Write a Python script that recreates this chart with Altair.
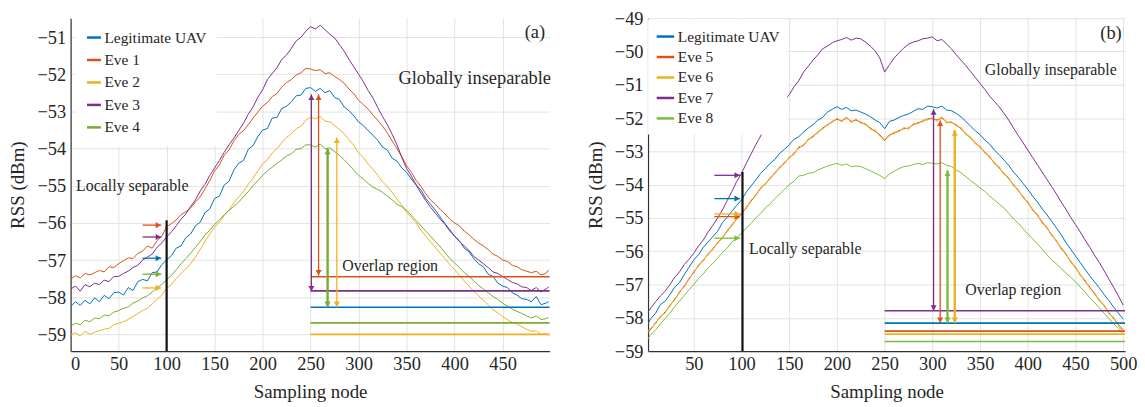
import altair as alt
import pandas as pd

FONT = "Times New Roman, Liberation Serif, DejaVu Serif, serif"
TXT = "#262626"

# ---------------- panel (a) ----------------
nodes_a = list(range(0, 500, 5)) + [498]
a_names = ["Legitimate UAV", "Eve 1", "Eve 2", "Eve 3", "Eve 4"]
a_colors = ["#0072BD", "#D95319", "#EDB120", "#7E2F8E", "#77AC30"]

a_uav = [-58.25,-58.12,-58.22,-58.08,-58.18, -58.02,-58.12,-57.95,-58.04,-57.88, -57.86,-57.94,-57.74,-57.82,-57.58,
         -57.52,-57.56,-57.34,-57.32,-57.12, -57.0,-56.88,-56.68,-56.62,-56.4, -56.3,-56.08,-55.98,-55.72,-55.62,
         -55.34,-55.28,-54.98,-54.88,-54.58, -54.4,-54.32,-54.02,-53.92,-53.68, -53.5,-53.46,-53.18,-53.16,-52.92,
         -52.86,-52.74,-52.58,-52.56,-52.38, -52.36,-52.46,-52.38,-52.5,-52.44, -52.62,-52.68,-52.88,-52.98,-53.12,
         -53.28,-53.38,-53.52,-53.64,-53.78, -53.96,-54.04,-54.26,-54.34,-54.52, -54.64,-54.82,-54.98,-55.12,-55.34,
         -55.5,-55.66,-55.84,-56.02,-56.18, -56.36,-56.48,-56.68,-56.78,-56.96, -57.1,-57.18,-57.38,-57.44,-57.62,
         -57.7,-57.74,-57.88,-57.94,-58.04, -58.06,-58.12,-57.98,-58.2,-58.16, -58.12]
a_eve1 = [-57.52,-57.42,-57.48,-57.36,-57.4, -57.34,-57.28,-57.32,-57.18,-57.2, -57.1,-57.02,-56.94,-56.96,-56.82,
          -56.76,-56.62,-56.68,-56.48,-56.36, -56.1,-56.02,-55.92,-55.78,-55.7, -55.6,-55.44,-55.3,-55.08,-54.86,
          -54.6,-54.44,-54.18,-54.04,-53.8, -53.62,-53.52,-53.36,-53.18,-53.02, -52.86,-52.76,-52.6,-52.52,-52.34,
          -52.22,-52.14,-52.02,-51.96,-51.84, -51.86,-51.9,-51.88,-51.98,-51.96, -52.06,-52.14,-52.24,-52.4,-52.52,
          -52.7,-52.82,-52.94,-53.1,-53.24, -53.4,-53.58,-53.8,-54.0,-54.22, -54.46,-54.64,-54.86,-55.02,-55.22,
          -55.38,-55.5,-55.64,-55.76,-55.9, -56.0,-56.08,-56.22,-56.32,-56.44, -56.54,-56.62,-56.72,-56.84,-56.9,
          -57.0,-57.04,-57.14,-57.18,-57.26, -57.3,-57.34,-57.3,-57.4,-57.36, -57.26]
a_eve2 = [-59.02,-58.96,-59.04,-58.92,-59.0, -58.94,-58.9,-58.86,-58.84,-58.74, -58.7,-58.66,-58.6,-58.52,-58.44,
          -58.36,-58.3,-58.18,-58.06,-57.94, -57.76,-57.66,-57.5,-57.36,-57.24, -57.1,-56.92,-56.72,-56.5,-56.3,
          -56.12,-55.98,-55.8,-55.66,-55.46, -55.3,-55.16,-54.96,-54.8,-54.6, -54.42,-54.3,-54.12,-54.0,-53.84,
          -53.7,-53.6,-53.46,-53.4,-53.24, -53.16,-53.2,-53.14,-53.26,-53.28, -53.38,-53.48,-53.6,-53.76,-53.92,
          -54.12,-54.24,-54.42,-54.56,-54.72, -54.9,-55.02,-55.18,-55.36,-55.52, -55.72,-55.86,-56.0,-56.2,-56.36,
          -56.52,-56.66,-56.82,-56.96,-57.12, -57.26,-57.4,-57.56,-57.7,-57.84, -57.96,-58.08,-58.2,-58.34,-58.42,
          -58.52,-58.6,-58.68,-58.72,-58.8, -58.86,-58.92,-58.9,-59.0,-58.98, -59.02]
a_eve3 = [-57.78,-57.7,-57.84,-57.66,-57.72, -57.62,-57.66,-57.54,-57.58,-57.44, -57.44,-57.36,-57.3,-57.2,-57.14,
          -57.0,-56.92,-56.84,-56.66,-56.54, -56.38,-56.24,-56.08,-55.9,-55.76, -55.56,-55.38,-55.14,-54.96,-54.72,
          -54.52,-54.32,-54.1,-53.9,-53.72, -53.52,-53.32,-53.08,-52.88,-52.62, -52.42,-52.14,-51.98,-51.82,-51.6,
          -51.48,-51.3,-51.1,-51.0,-50.84, -50.72,-50.78,-50.68,-50.8,-50.92, -51.02,-51.2,-51.38,-51.6,-51.8,
          -52.0,-52.2,-52.44,-52.64,-52.9, -53.14,-53.36,-53.62,-53.9,-54.24, -54.54,-54.74,-54.98,-55.2,-55.4,
          -55.58,-55.74,-55.9,-56.04,-56.22, -56.36,-56.5,-56.62,-56.74,-56.9, -57.0,-57.1,-57.2,-57.32,-57.36,
          -57.44,-57.52,-57.6,-57.64,-57.72, -57.74,-57.82,-57.74,-57.86,-57.78, -57.72]
a_eve4 = [-58.78,-58.7,-58.74,-58.62,-58.66, -58.56,-58.58,-58.48,-58.5,-58.4, -58.36,-58.3,-58.26,-58.16,-58.1,
          -58.02,-57.96,-57.86,-57.74,-57.66, -57.52,-57.42,-57.26,-57.1,-56.96, -56.82,-56.66,-56.5,-56.32,-56.2,
          -56.04,-55.92,-55.78,-55.66,-55.56, -55.44,-55.3,-55.16,-55.0,-54.86, -54.72,-54.6,-54.5,-54.4,-54.3,
          -54.2,-54.14,-54.02,-54.0,-53.9, -53.9,-53.96,-53.88,-54.0,-53.98, -54.08,-54.18,-54.3,-54.44,-54.58,
          -54.72,-54.82,-54.94,-55.04,-55.1, -55.18,-55.28,-55.38,-55.5,-55.56, -55.66,-55.8,-55.94,-56.08,-56.22,
          -56.36,-56.5,-56.64,-56.8,-56.96, -57.08,-57.2,-57.34,-57.44,-57.56, -57.68,-57.78,-57.88,-57.98,-58.06,
          -58.16,-58.24,-58.32,-58.38,-58.44, -58.5,-58.56,-58.5,-58.6,-58.58, -58.54]

a_overlap_y = [-58.27, -57.45, -59.0, -57.83, -58.69]      # per a_names
a_overlap_x = [250, 499]
a_marker_y = [-56.95, -56.06, -57.75, -56.38, -57.38]      # small arrows at node 100
a_marker_x = [75, 94.5]
a_arrow_series = ["Eve 3", "Eve 1", "Eve 4", "Eve 2"]
a_arrow_x = [250.8, 258.3, 267.7, 277.3]
a_arrow_top = [-52.54, -52.54, -54.0, -53.7]
a_arrow_bottom = [-57.85, -57.42, -58.27, -58.27]
a_thick = ["Eve 4"]
a_black = [100, -55.93]
a_notes = ["Locally separable", "Overlap region", "Globally inseparable", "(a)"]
a_notes_x = [5.7, 283, 341.5, 473]
a_notes_y = [-55.0, -57.16, -52.1, -50.85]
a_xdom = [0, 499]
a_ydom = [-59.45, -50.49]
a_xticks = [0, 50, 100, 150, 200, 250, 300, 350, 400, 450]
a_yticks = [-59, -58, -57, -56, -55, -54, -53, -52, -51]

# ---------------- panel (b) ----------------
nodes_b = list(range(0, 505, 5))
b_names = ["Legitimate UAV", "Eve 5", "Eve 6", "Eve 7", "Eve 8"]
b_colors = ["#0072BD", "#D95319", "#EDB120", "#7E2F8E", "#78BE3C"]

b_uav = [-58.28,-58.02,-57.86,-57.6,-57.5, -57.3,-57.08,-56.94,-56.7,-56.48, -56.26,-56.1,-55.88,-55.72,-55.56,
         -55.4,-55.14,-54.98,-54.8,-54.62, -54.46,-54.22,-54.04,-53.86,-53.66, -53.52,-53.36,-53.24,-53.06,-52.94,
         -52.8,-52.64,-52.56,-52.42,-52.3, -52.2,-52.06,-51.98,-51.82,-51.74, -51.66,-51.74,-51.68,-51.78,-51.76,
         -51.82,-51.88,-51.96,-52.06,-52.14, -52.32,-52.1,-52.06,-51.98,-51.92, -51.88,-51.8,-51.72,-51.74,-51.64,
         -51.66,-51.7,-51.64,-51.76,-51.78, -51.86,-51.96,-52.1,-52.24,-52.38, -52.5,-52.66,-52.78,-52.96,-53.1,
         -53.26,-53.42,-53.62,-53.78,-53.96, -54.14,-54.34,-54.52,-54.72,-54.9, -55.1,-55.3,-55.5,-55.74,-55.94,
         -56.14,-56.34,-56.54,-56.74,-56.92, -57.1,-57.3,-57.48,-57.68,-57.86, -58.04]
b_eve5 = [-58.52,-58.34,-58.14,-57.98,-57.82, -57.64,-57.44,-57.24,-57.04,-56.84, -56.62,-56.44,-56.26,-56.1,-55.92,
          -55.76,-55.58,-55.4,-55.2,-55.04, -54.88,-54.68,-54.5,-54.3,-54.12, -53.96,-53.82,-53.64,-53.5,-53.34,
          -53.2,-53.06,-52.9,-52.8,-52.66, -52.54,-52.44,-52.3,-52.22,-52.1, -52.04,-52.08,-52.0,-52.1,-52.06,
          -52.12,-52.2,-52.3,-52.4,-52.5, -52.68,-52.5,-52.46,-52.38,-52.32, -52.3,-52.2,-52.14,-52.1,-52.02,
          -52.02,-52.06,-52.0,-52.12,-52.14, -52.2,-52.32,-52.46,-52.6,-52.74, -52.88,-53.02,-53.18,-53.34,-53.5,
          -53.66,-53.82,-54.0,-54.18,-54.36, -54.54,-54.74,-54.92,-55.12,-55.3, -55.5,-55.7,-55.9,-56.1,-56.3,
          -56.5,-56.7,-56.9,-57.08,-57.28, -57.46,-57.64,-57.84,-58.02,-58.2, -58.36]
b_eve6 = [-58.46,-58.3,-58.18,-57.94,-57.86, -57.6,-57.48,-57.2,-57.08,-56.8, -56.66,-56.4,-56.3,-56.06,-55.96,
          -55.72,-55.62,-55.36,-55.24,-55.0, -54.84,-54.72,-54.46,-54.34,-54.08, -54.0,-53.78,-53.68,-53.46,-53.38,
          -53.16,-53.1,-52.86,-52.84,-52.62, -52.58,-52.4,-52.34,-52.18,-52.14, -52.0,-52.12,-51.96,-52.14,-52.02,
          -52.16,-52.16,-52.34,-52.36,-52.54, -52.64,-52.54,-52.42,-52.42,-52.28, -52.34,-52.16,-52.18,-52.06,-52.06,
          -51.98,-52.1,-51.96,-52.16,-52.1, -52.24,-52.28,-52.5,-52.56,-52.78, -52.84,-53.06,-53.14,-53.38,-53.46,
          -53.7,-53.78,-54.04,-54.14,-54.4, -54.5,-54.78,-54.88,-55.16,-55.26, -55.54,-55.66,-55.94,-56.06,-56.34,
          -56.46,-56.74,-56.86,-57.12,-57.24, -57.5,-57.6,-57.88,-57.98,-58.24, -58.42]
b_eve7 = [-57.92,-57.7,-57.52,-57.34,-57.2, -57.0,-56.78,-56.62,-56.4,-56.24, -56.06,-55.84,-55.66,-55.42,-55.22,
          -55.0,-54.76,-54.48,-54.2,-53.9, -53.66,-53.36,-53.08,-52.8,-52.54, -52.26,-52.04,-51.82,-51.64,-51.46,
          -51.3,-51.06,-50.88,-50.62,-50.44, -50.26,-50.1,-49.92,-49.84,-49.74, -49.68,-49.64,-49.58,-49.66,-49.6,
          -49.62,-49.72,-49.84,-49.98,-50.2, -50.62,-50.4,-50.2,-50.04,-49.9, -49.78,-49.72,-49.68,-49.62,-49.6,
          -49.56,-49.68,-49.64,-49.78,-49.92, -50.1,-50.26,-50.42,-50.6,-50.78, -50.96,-51.14,-51.34,-51.5,-51.66,
          -51.86,-52.06,-52.3,-52.52,-52.74, -52.96,-53.18,-53.4,-53.62,-53.84, -54.06,-54.28,-54.52,-54.74,-54.98,
          -55.2,-55.42,-55.66,-55.88,-56.12, -56.34,-56.58,-56.84,-57.08,-57.34, -57.62]
b_eve8 = [-58.7,-58.5,-58.36,-58.18,-58.02, -57.86,-57.66,-57.5,-57.32,-57.16, -57.0,-56.82,-56.68,-56.5,-56.36,
          -56.2,-56.04,-55.9,-55.72,-55.6, -55.46,-55.3,-55.16,-55.0,-54.86, -54.7,-54.58,-54.42,-54.28,-54.14,
          -54.0,-53.9,-53.74,-53.72,-53.66, -53.64,-53.56,-53.5,-53.44,-53.4, -53.36,-53.42,-53.38,-53.46,-53.44,
          -53.46,-53.52,-53.58,-53.66,-53.72, -53.82,-53.68,-53.6,-53.52,-53.46, -53.44,-53.4,-53.36,-53.4,-53.34,
          -53.36,-53.38,-53.34,-53.42,-53.46, -53.56,-53.64,-53.76,-53.88,-53.98, -54.1,-54.2,-54.34,-54.46,-54.58,
          -54.7,-54.86,-55.02,-55.16,-55.32, -55.48,-55.62,-55.78,-55.94,-56.1, -56.26,-56.38,-56.52,-56.66,-56.78,
          -56.92,-57.08,-57.22,-57.4,-57.54, -57.7,-57.86,-58.02,-58.18,-58.32, -58.48]

b_overlap_y = [-58.16, -58.4, -58.49, -57.79, -58.71]
b_overlap_x = [250, 502]
b_marker_y = [-54.42, -54.96, -54.88, -53.72, -55.61]
b_marker_x = [71.5, 98.5]
b_arrow_series = ["Eve 7", "Eve 5", "Eve 8", "Eve 6"]
b_arrow_x = [301.3, 308.2, 315.9, 323.5]
b_arrow_top = [-51.73, -52.07, -53.57, -52.36]
b_arrow_bottom = [-57.79, -58.16, -58.16, -58.16]
b_thick = ["Eve 8", "Eve 6"]
b_black = [101, -53.62]
b_notes = ["Locally separable", "Overlap region", "Globally inseparable", "(b)"]
b_notes_x = [107.8, 334.6, 355, 476]
b_notes_y = [-55.93, -57.18, -50.57, -49.46]
b_xdom = [2, 502]
b_ydom = [-59, -49]
b_xticks = [50, 100, 150, 200, 250, 300, 350, 400, 450, 500]
b_yticks = [-59, -58, -57, -56, -55, -54, -53, -52, -51, -50, -49]


def long_df(nodes, names, lists):
    rows = []
    for name, vals in zip(names, lists):
        assert len(vals) == len(nodes), (name, len(vals), len(nodes))
        for n, v in zip(nodes, vals):
            rows.append({"node": n, "rss": v, "series": name})
    return pd.DataFrame(rows)


def panel(df, names, colors, xdom, ydom, xticks, yticks, ov_y, ov_x, mk_y, mk_x,
          ar_s, ar_x, ar_top, ar_bot, thick, black, notes, notes_x, notes_y,
          big_notes, legend_kw, w, h):
    xs = alt.Scale(domain=xdom, nice=False, zero=False)
    ys = alt.Scale(domain=ydom, nice=False, zero=False)
    cs = alt.Scale(domain=names, range=colors)
    xaxis = alt.Axis(values=xticks, title="Sampling node", grid=True, format="d")
    yaxis = alt.Axis(values=yticks, title="RSS (dBm)", grid=True, format="d")
    X = alt.X("node:Q", scale=xs, axis=xaxis)
    Y = alt.Y("rss:Q", scale=ys, axis=yaxis)
    C = alt.Color("series:N", scale=cs, legend=None)

    lines = alt.Chart(df).mark_line(strokeWidth=1, clip=True).encode(
        x=X, y=Y,
        color=alt.Color("series:N", scale=cs, legend=alt.Legend(**legend_kw)),
        detail="series:N",
    )

    ov_df = pd.DataFrame({"series": names, "rss": ov_y,
                          "node": [ov_x[0]] * len(names), "node2": [ov_x[1]] * len(names)})
    overlap = alt.Chart(ov_df).mark_rule(strokeWidth=1.6).encode(
        x=X, x2="node2:Q", y=Y, color=C)

    mk_df = pd.DataFrame({"series": names, "rss": mk_y,
                          "node": [mk_x[0]] * len(names), "node2": [mk_x[1]] * len(names)})
    mk_lines = alt.Chart(mk_df).mark_rule(strokeWidth=1.3).encode(
        x=X, x2="node2:Q", y=Y, color=C)
    mk_heads = alt.Chart(mk_df).mark_point(shape="triangle-right", filled=True, size=38,
                                           opacity=1, xOffset=-3).encode(
        x=alt.X("node2:Q", scale=xs, axis=xaxis), y=Y, color=C)

    ar_df = pd.DataFrame({"series": ar_s, "node": ar_x, "rss": ar_top, "rss2": ar_bot})
    thin_sel = alt.FieldOneOfPredicate(field="series", oneOf=thick)
    ar_thin = alt.Chart(ar_df).transform_filter(~thin_sel).mark_rule(strokeWidth=1.3).encode(
        x=X, y=Y, y2="rss2:Q", color=C)
    ar_thick = alt.Chart(ar_df).transform_filter(thin_sel).mark_rule(strokeWidth=2.4).encode(
        x=X, y=Y, y2="rss2:Q", color=C)
    head_up = alt.Chart(ar_df).mark_point(shape="triangle-up", filled=True, size=38,
                                          opacity=1, yOffset=3).encode(x=X, y=Y, color=C)
    head_dn = alt.Chart(ar_df).mark_point(shape="triangle-down", filled=True, size=38,
                                          opacity=1, yOffset=-3).encode(
        x=X, y=alt.Y("rss2:Q", scale=ys, axis=yaxis), color=C)

    bl_df = pd.DataFrame({"node": [black[0]], "rss": [ydom[0]], "rss2": [black[1]]})
    black_rule = alt.Chart(bl_df).mark_rule(strokeWidth=2.2, color="#111111").encode(
        x=X, y=Y, y2="rss2:Q")

    nt_df = pd.DataFrame({"label": notes, "node": notes_x, "rss": notes_y})
    is_big = alt.FieldOneOfPredicate(field="label", oneOf=big_notes)
    note_small = alt.Chart(nt_df).transform_filter(~is_big).mark_text(
        align="left", baseline="middle", font=FONT, fontSize=16, color=TXT).encode(
        x=X, y=Y, text="label:N")
    note_big = alt.Chart(nt_df).transform_filter(is_big).mark_text(
        align="left", baseline="middle", font=FONT, fontSize=18.5, color=TXT).encode(
        x=X, y=Y, text="label:N")

    return alt.layer(lines, overlap, mk_lines, mk_heads, ar_thin, ar_thick, head_up, head_dn,
                     black_rule, note_small, note_big).properties(width=w, height=h)


legend_common = dict(
    title=None, orient="none", fillColor="white", symbolType="stroke",
    symbolStrokeWidth=2.5, labelFont=FONT, labelFontSize=15.5, labelColor=TXT,
    labelOffset=2, labelLimit=300,
)

df_a = long_df(nodes_a, a_names, [a_uav, a_eve1, a_eve2, a_eve3, a_eve4])
df_b = long_df(nodes_b, b_names, [b_uav, b_eve5, b_eve6, b_eve7, b_eve8])

left = panel(df_a, a_names, a_colors, a_xdom, a_ydom, a_xticks, a_yticks,
             a_overlap_y, a_overlap_x, a_marker_y, a_marker_x,
             a_arrow_series, a_arrow_x, a_arrow_top, a_arrow_bottom, a_thick, a_black,
             a_notes, a_notes_x, a_notes_y, ["Globally inseparable", "(a)"],
             dict(legend_common, legendX=5, legendY=1, padding=10, rowPadding=5.6, symbolSize=196),
             482, 335)
right = panel(df_b, b_names, b_colors, b_xdom, b_ydom, b_xticks, b_yticks,
              b_overlap_y, b_overlap_x, b_marker_y, b_marker_x,
              b_arrow_series, b_arrow_x, b_arrow_top, b_arrow_bottom, b_thick, b_black,
              b_notes, b_notes_x, b_notes_y, ["(b)"],
              dict(legend_common, legendX=0, legendY=1, padding=7, rowPadding=1.6, symbolSize=310),
              480, 335)

chart = alt.hconcat(left, right, spacing=35).resolve_scale(
    x="independent", y="independent", color="independent"
).resolve_legend(color="independent").properties(
    padding={"left": 1, "top": 0, "right": 0, "bottom": 0}
).configure_view(stroke=None).configure_axis(
    labelFont=FONT, labelFontSize=18.5, labelColor=TXT, labelPadding=5,
    titleFont=FONT, titleFontSize=19, titleFontWeight="normal", titleColor=TXT,
    domainColor="#333333", domainWidth=1.2, tickSize=0,
    gridColor="#e2e2e2", gridWidth=1,
).configure_axisY(titlePadding=9).configure_axisX(titlePadding=9, labelPadding=4)

chart.save("out.html", embed_options={"renderer": "svg", "actions": False})
